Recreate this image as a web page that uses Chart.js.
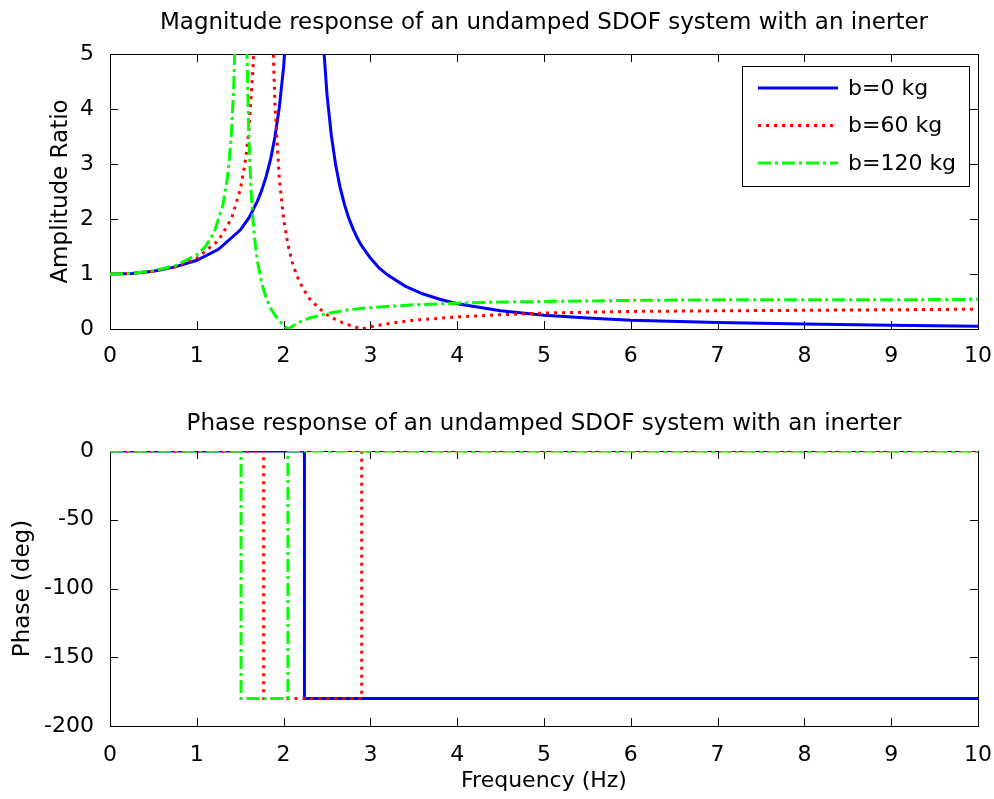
<!DOCTYPE html>
<html>
<head>
<meta charset="utf-8">
<script src="https://cdn.jsdelivr.net/npm/chart.js@4.4.0/dist/chart.umd.min.js"></script>
<style>
  html, body { margin: 0; padding: 0; background: #fff; }
  canvas { display: block; }
</style>
</head>
<body>
<canvas id="magChart" width="994" height="390"></canvas>
<canvas id="phaseChart" width="994" height="409"></canvas>
<script>
const seriesLabels = ["b=0 kg", "b=60 kg", "b=120 kg"];

// magnitude, b = 0 kg
const freqB0 = [0, 0.25, 0.5, 0.75, 1.0, 1.25, 1.5, 1.6, 1.7, 1.75, 1.8, 1.85, 1.9, 1.95, 2.0, 2.05, 2.1, 2.15, 2.2, 2.3, 2.4, 2.45, 2.5, 2.55, 2.6, 2.65, 2.7, 2.75, 2.8, 2.85, 2.9, 3.0, 3.1, 3.2, 3.4, 3.6, 3.8, 4.0, 4.5, 5.0, 5.5, 6.0, 7.0, 8.0, 9.0, 10.0];
const ampB0 = [1.0, 1.01, 1.05, 1.13, 1.25, 1.45, 1.8, 2.02, 2.33, 2.53, 2.78, 3.09, 3.49, 4.02, 4.76, 5.89, 7.76, 11.5, 22.7, 22.2, 7.26, 5.38, 4.26, 3.52, 2.98, 2.58, 2.27, 2.02, 1.82, 1.65, 1.51, 1.29, 1.11, 0.98, 0.78, 0.64, 0.54, 0.46, 0.33, 0.25, 0.2, 0.16, 0.12, 0.09, 0.07, 0.05];

// magnitude, b = 60 kg
const freqB60 = [0, 0.25, 0.5, 0.75, 1.0, 1.25, 1.4, 1.5, 1.55, 1.575, 1.6, 1.65, 1.7, 1.75, 1.8, 1.85, 1.875, 1.9, 1.95, 2.0, 2.05, 2.1, 2.15, 2.2, 2.25, 2.3, 2.4, 2.5, 2.6, 2.7, 2.8, 2.9, 3.0, 3.25, 3.5, 4.0, 4.5, 5.0, 6.0, 7.0, 8.0, 9.0, 10.0];
const ampB60 = [1.0, 1.01, 1.05, 1.13, 1.29, 1.61, 2.01, 2.53, 2.96, 3.25, 3.62, 4.81, 7.47, 19.0, 27.2, 7.39, 5.31, 4.1, 2.74, 2.0, 1.53, 1.21, 0.98, 0.81, 0.67, 0.55, 0.39, 0.26, 0.17, 0.1, 0.05, 0.0, 0.04, 0.11, 0.16, 0.22, 0.26, 0.29, 0.32, 0.33, 0.34, 0.35, 0.36];

// magnitude, b = 120 kg
const freqB120 = [0, 0.25, 0.5, 0.75, 1.0, 1.1, 1.2, 1.3, 1.35, 1.375, 1.4, 1.425, 1.45, 1.5, 1.55, 1.575, 1.6, 1.625, 1.65, 1.675, 1.7, 1.75, 1.8, 1.85, 1.9, 1.95, 2.0, 2.05, 2.1, 2.2, 2.3, 2.5, 2.75, 3.0, 3.5, 4.0, 4.5, 5.0, 6.0, 7.0, 8.0, 9.0, 10.0];
const ampB120 = [1.0, 1.01, 1.06, 1.15, 1.35, 1.5, 1.76, 2.25, 2.72, 3.08, 3.6, 4.39, 5.79, 20.9, 9.74, 5.26, 3.48, 2.52, 1.92, 1.52, 1.22, 0.82, 0.56, 0.38, 0.25, 0.15, 0.07, 0.0, 0.05, 0.14, 0.2, 0.28, 0.35, 0.39, 0.44, 0.47, 0.49, 0.5, 0.52, 0.53, 0.53, 0.53, 0.54];

// phase (deg), step changes
const phaseFreqB0 = [0, 2.24, 2.24, 10];
const phaseB0 = [0, 0, -180, -180];
const phaseFreqB60 = [0, 1.77, 1.77, 2.9, 2.9, 10];
const phaseB60 = [0, 0, -180, -180, 0, 0];
const phaseFreqB120 = [0, 1.51, 1.51, 2.05, 2.05, 10];
const phaseB120 = [0, 0, -180, -180, 0, 0];

const xTicks = [0, 1, 2, 3, 4, 5, 6, 7, 8, 9, 10];

const FONT = "'DejaVu Sans', 'Liberation Sans', Arial, sans-serif";
const TICK = 8;

Chart.defaults.font.family = FONT;
Chart.defaults.font.size = 22;
Chart.defaults.color = "#000";

const styles = [
  { borderColor: "#0000ff", borderDash: [], order: 3 },
  { borderColor: "#ff0000", borderDash: [3, 5], order: 2 },
  { borderColor: "#00ff00", borderDash: [13, 4, 3, 4], order: 1 },
];

function points(xs, ys) {
  return xs.map((x, i) => ({ x: x, y: ys[i] }));
}

function makeDatasets(pairs) {
  return pairs.map(([xs, ys], i) => ({
    label: seriesLabels[i],
    data: points(xs, ys),
    borderColor: styles[i].borderColor,
    borderDash: styles[i].borderDash,
    borderWidth: 3,
    pointRadius: 0,
    tension: 0,
    fill: false,
    order: styles[i].order,
  }));
}

// matlab style box with inward ticks on all four sides
const axesBox = {
  id: "axesBox",
  beforeDatasetsDraw(chart) {
    const { ctx, chartArea: a, scales: { x, y } } = chart;
    ctx.save();
    ctx.strokeStyle = "#000";
    ctx.lineWidth = 1;
    ctx.beginPath();
    x.ticks.forEach((t) => {
      const px = Math.round(x.getPixelForValue(t.value)) + 0.5;
      ctx.moveTo(px, a.bottom); ctx.lineTo(px, a.bottom - TICK);
      ctx.moveTo(px, a.top); ctx.lineTo(px, a.top + TICK);
    });
    y.ticks.forEach((t) => {
      const py = Math.round(y.getPixelForValue(t.value)) + 0.5;
      ctx.moveTo(a.left, py); ctx.lineTo(a.left + TICK, py);
      ctx.moveTo(a.right, py); ctx.lineTo(a.right - TICK, py);
    });
    ctx.stroke();
    ctx.strokeRect(Math.round(a.left) + 0.5, Math.round(a.top) + 0.5, Math.round(a.width), Math.round(a.height));
    ctx.restore();
  },
};

// legend box in the top right corner of the magnitude plot
const legendBox = {
  id: "legendBox",
  afterDraw(chart) {
    const { ctx, chartArea: a } = chart;
    const left = a.right - 236, top = a.top + 12, w = 227, h = 120;
    ctx.save();
    ctx.fillStyle = "#fff";
    ctx.fillRect(left, top, w, h);
    ctx.strokeStyle = "#000";
    ctx.lineWidth = 1;
    ctx.strokeRect(left + 0.5, top + 0.5, w, h);
    chart.data.datasets.forEach((ds, i) => {
      const cy = top + 22 + i * 37.5;
      ctx.strokeStyle = ds.borderColor;
      ctx.lineWidth = ds.borderWidth;
      ctx.setLineDash(ds.borderDash);
      ctx.beginPath();
      ctx.moveTo(left + 16, cy);
      ctx.lineTo(left + 96, cy);
      ctx.stroke();
      ctx.setLineDash([]);
      ctx.fillStyle = "#000";
      ctx.font = "22px " + FONT;
      ctx.textBaseline = "middle";
      ctx.fillText(ds.label, left + 106, cy + 1);
    });
    ctx.restore();
  },
};

function xScale(height, labelPad, title) {
  return {
    type: "linear",
    min: 0,
    max: 10,
    afterBuildTicks: (s) => { s.ticks = xTicks.map((v) => ({ value: v })); },
    afterFit: (s) => {
      s.height = height;
      // edge labels may hang past the plot box, like matlab
      s.paddingLeft = 0;
      s.paddingRight = 0;
    },
    grid: { display: false },
    border: { display: false },
    ticks: { padding: labelPad, maxRotation: 0, autoSkip: false },
    title: title
      ? { display: true, text: title, padding: { top: 0, bottom: 5 } }
      : { display: false },
  };
}

new Chart(document.getElementById("magChart"), {
  type: "line",
  data: {
    datasets: makeDatasets([[freqB0, ampB0], [freqB60, ampB60], [freqB120, ampB120]]),
  },
  options: {
    responsive: false,
    animation: false,
    layout: { padding: { left: 47, right: 16, top: 0, bottom: 0 } },
    plugins: {
      legend: { display: false },
      tooltip: { enabled: false },
      title: {
        display: true,
        text: "Magnitude response of an undamped SDOF system with an inerter",
        fullSize: false,
        font: { size: 23, weight: "normal" },
        padding: { top: 9, bottom: 17.4 },
      },
    },
    scales: {
      x: xScale(61, 6, null),
      y: {
        type: "linear",
        min: 0,
        max: 5,
        ticks: { stepSize: 1, padding: 8 },
        afterFit: (s) => { s.width = 63; },
        grid: { display: false },
        border: { display: false },
        title: { display: true, text: "Amplitude Ratio", padding: 0, font: { size: 23 } },
      },
    },
  },
  plugins: [axesBox, legendBox],
});

new Chart(document.getElementById("phaseChart"), {
  type: "line",
  data: {
    datasets: makeDatasets([[phaseFreqB0, phaseB0], [phaseFreqB60, phaseB60], [phaseFreqB120, phaseB120]]),
  },
  options: {
    responsive: false,
    animation: false,
    layout: { padding: { left: 9, right: 16, top: 0, bottom: 0 } },
    plugins: {
      legend: { display: false },
      tooltip: { enabled: false },
      title: {
        display: true,
        text: "Phase response of an undamped SDOF system with an inerter",
        fullSize: false,
        font: { size: 23, weight: "normal" },
        padding: { top: 20, bottom: 13.4 },
      },
    },
    scales: {
      x: xScale(73, 8, "Frequency (Hz)"),
      y: {
        type: "linear",
        min: -200,
        max: 0,
        ticks: { stepSize: 50, padding: 8 },
        afterFit: (s) => { s.width = 101; },
        grid: { display: false },
        border: { display: false },
        title: { display: true, text: "Phase (deg)", padding: 0, font: { size: 23 } },
      },
    },
  },
  plugins: [axesBox],
});
</script>
</body>
</html>
